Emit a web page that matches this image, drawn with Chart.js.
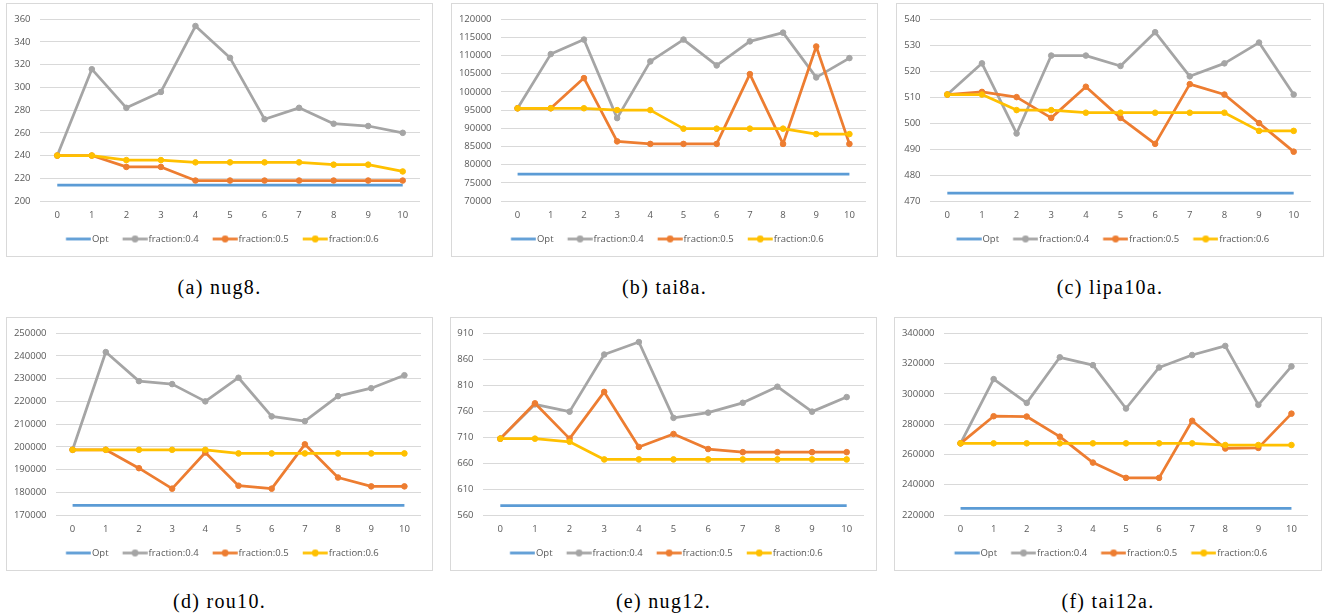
<!DOCTYPE html>
<html>
<head>
<meta charset="utf-8">
<script src="https://cdn.jsdelivr.net/npm/chart.js@4/dist/chart.umd.min.js"></script>
<style>
  html, body { margin: 0; padding: 0; background: #fff; }
  body { width: 1329px; height: 616px; position: relative; overflow: hidden; }
  .panel { position: absolute; box-sizing: border-box; border: 1px solid #d9d9d9; background: #fff; }
  .panel canvas { display: block; }
  .caption {
    position: absolute; font-family: "Liberation Serif", "Times New Roman", serif;
    font-size: 20px; line-height: 20px; letter-spacing: 1.3px; color: #000;
    text-align: center; white-space: nowrap;
  }
</style>
</head>
<body>
<script>
// ---- shared categories and series names ----
const categories = ['0', '1', '2', '3', '4', '5', '6', '7', '8', '9', '10'];
const seriesNames = ['Opt', 'fraction:0.4', 'fraction:0.5', 'fraction:0.6'];

// ---- nug8 ----
const nug8Ticks = [200, 220, 240, 260, 280, 300, 320, 340, 360];
const nug8Opt = [214, 214, 214, 214, 214, 214, 214, 214, 214, 214, 214];
const nug8F04 = [240, 316, 282, 296, 354, 326, 272, 282, 268, 266, 260];
const nug8F05 = [240, 240, 230, 230, 218, 218, 218, 218, 218, 218, 218];
const nug8F06 = [240, 240, 236, 236, 234, 234, 234, 234, 232, 232, 226];

// ---- tai8a ----
const tai8aTicks = [70000, 75000, 80000, 85000, 90000, 95000, 100000, 105000, 110000, 115000, 120000];
const tai8aOpt = [77400, 77400, 77400, 77400, 77400, 77400, 77400, 77400, 77400, 77400, 77400];
const tai8aF04 = [95500, 110400, 114400, 92800, 108400, 114400, 107300, 113900, 116300, 104000, 109300];
const tai8aF05 = [95500, 95500, 103800, 86400, 85700, 85700, 85700, 104900, 85700, 112500, 85700];
const tai8aF06 = [95500, 95500, 95500, 95000, 95000, 89900, 89900, 89900, 89900, 88400, 88400];

// ---- lipa10a ----
const lipa10aTicks = [470, 480, 490, 500, 510, 520, 530, 540];
const lipa10aOpt = [473, 473, 473, 473, 473, 473, 473, 473, 473, 473, 473];
const lipa10aF04 = [511, 523, 496, 526, 526, 522, 535, 518, 523, 531, 511];
const lipa10aF05 = [511, 512, 510, 502, 514, 502, 492, 515, 511, 500, 489];
const lipa10aF06 = [511, 511, 505, 505, 504, 504, 504, 504, 504, 497, 497];

// ---- rou10 ----
const rou10Ticks = [170000, 180000, 190000, 200000, 210000, 220000, 230000, 240000, 250000];
const rou10Opt = [174200, 174200, 174200, 174200, 174200, 174200, 174200, 174200, 174200, 174200, 174200];
const rou10F04 = [198700, 241700, 228900, 227600, 220000, 230400, 213400, 211300, 222300, 225800, 231500];
const rou10F05 = [198700, 198700, 190600, 181600, 197500, 182900, 181600, 201100, 186500, 182600, 182600];
const rou10F06 = [198700, 198700, 198700, 198700, 198700, 197100, 197100, 197100, 197100, 197100, 197100];

// ---- nug12 ----
const nug12Ticks = [560, 610, 660, 710, 760, 810, 860, 910];
const nug12Opt = [578, 578, 578, 578, 578, 578, 578, 578, 578, 578, 578];
const nug12F04 = [707, 773, 759, 869, 893, 747, 757, 776, 807, 759, 787];
const nug12F05 = [707, 775, 707, 797, 691, 716, 687, 681, 681, 681, 681];
const nug12F06 = [707, 707, 701, 667, 667, 667, 667, 667, 667, 667, 667];

// ---- tai12a ----
const tai12aTicks = [220000, 240000, 260000, 280000, 300000, 320000, 340000];
const tai12aOpt = [224400, 224400, 224400, 224400, 224400, 224400, 224400, 224400, 224400, 224400, 224400];
const tai12aF04 = [267300, 309700, 294000, 324100, 318900, 290300, 317400, 325600, 331600, 292700, 318100];
const tai12aF05 = [267300, 285200, 285000, 271700, 254600, 244500, 244500, 282200, 263900, 264300, 286900];
const tai12aF06 = [267300, 267300, 267300, 267300, 267300, 267300, 267300, 267300, 266200, 266200, 266200];

// ---- page layout: outer box [x, y, w, h] and plot area [left, right, top, bottom] ----
const panels = [
  { caption: '(a) nug8.',    ticks: nug8Ticks,    series: [nug8Opt, nug8F04, nug8F05, nug8F06],             box: [6, 3, 427, 254],   plot: [40, 420, 15, 201] },
  { caption: '(b) tai8a.',   ticks: tai8aTicks,   series: [tai8aOpt, tai8aF04, tai8aF05, tai8aF06],         box: [451, 3, 427, 254], plot: [501, 866, 15, 201] },
  { caption: '(c) lipa10a.', ticks: lipa10aTicks, series: [lipa10aOpt, lipa10aF04, lipa10aF05, lipa10aF06], box: [896, 3, 428, 254], plot: [930, 1311, 15, 201] },
  { caption: '(d) rou10.',   ticks: rou10Ticks,   series: [rou10Opt, rou10F04, rou10F05, rou10F06],         box: [6, 317, 427, 254],   plot: [56, 421, 329, 515] },
  { caption: '(e) nug12.',   ticks: nug12Ticks,   series: [nug12Opt, nug12F04, nug12F05, nug12F06],         box: [450, 317, 427, 254], plot: [483, 864, 329, 515] },
  { caption: '(f) tai12a.',  ticks: tai12aTicks,  series: [tai12aOpt, tai12aF04, tai12aF05, tai12aF06],     box: [894, 317, 428, 254], plot: [944, 1308, 329, 515] }
];

const seriesColors = ['#5B9BD5', '#A5A5A5', '#ED7D31', '#FFC000'];
const seriesMarkers = [false, true, true, true];

const FONT_SIZE = 9.5;
const LEGEND_PAD = 10.25;
const LEGEND_BOX = 25;

Chart.defaults.font.family = '"Open Sans", "Noto Sans", sans-serif';
Chart.defaults.font.size = FONT_SIZE;
Chart.defaults.color = '#595959';

// Legend symbol: a short line (with a dot for marker series) that runs up to the label text
function legendSymbol(color, marker) {
  const half = FONT_SIZE / 2;
  const W = 33, H = 9;
  const c = document.createElement('canvas');
  c.width = W; c.height = H;
  const ctx = c.getContext('2d');
  const x1 = W / 2 + LEGEND_BOX / 2 + half - 1;
  const x0 = x1 - LEGEND_BOX;
  ctx.strokeStyle = color;
  ctx.lineWidth = 2.75;
  ctx.beginPath(); ctx.moveTo(x0, H / 2); ctx.lineTo(x1, H / 2); ctx.stroke();
  if (marker) {
    ctx.fillStyle = color;
    ctx.beginPath(); ctx.arc((x0 + x1) / 2, H / 2, 3.4, 0, Math.PI * 2); ctx.fill();
  }
  return c;
}
const legendSymbols = seriesColors.map((c, i) => legendSymbol(c, seriesMarkers[i]));

// Centres the legend row on the whole chart box rather than on the plot area
const legendCentering = {
  id: 'legendCentering',
  afterLayout(chart) {
    const lg = chart.legend;
    if (!lg) return;
    const target = chart.width / 2 + 1;
    const w = lg.right - lg.left;
    lg.left = target - w / 2;
    lg.right = target + w / 2;
  }
};

panels.forEach(p => {
  const [bx, by, bw, bh] = p.box;
  const [pl, pr, pt, pb] = p.plot;

  const div = document.createElement('div');
  div.className = 'panel';
  Object.assign(div.style, { left: bx + 'px', top: by + 'px', width: bw + 'px', height: bh + 'px' });
  const canvas = document.createElement('canvas');
  const cw = bw - 2, ch = bh - 2;
  canvas.width = cw; canvas.height = ch;
  canvas.style.width = cw + 'px'; canvas.style.height = ch + 'px';
  div.appendChild(canvas);
  document.body.appendChild(div);

  const cap = document.createElement('div');
  cap.className = 'caption';
  cap.textContent = p.caption;
  Object.assign(cap.style, { left: bx + 'px', width: bw + 'px', top: (by + bh + 20) + 'px' });
  document.body.appendChild(cap);

  // plot area inside the canvas
  const ox = bx + 1, oy = by + 1;
  const areaLeft = pl - ox;
  const areaTop = pt - oy;
  const padRight = ox + cw - pr;
  const legendCenter = (by + bh) - 18 - oy;
  const legendHeight = FONT_SIZE + LEGEND_PAD + 10;
  const padBottom = ch - (legendCenter + (legendHeight - LEGEND_PAD - FONT_SIZE / 2));
  const legendTop = ch - padBottom - legendHeight;
  const xAxisHeight = legendTop - (pb - oy);

  const datasets = p.series.map((vals, i) => ({
    label: seriesNames[i],
    data: vals,
    borderColor: seriesColors[i],
    backgroundColor: seriesColors[i],
    borderWidth: 2.75,
    borderJoinStyle: 'round',
    pointRadius: seriesMarkers[i] ? 2.8 : 0,
    pointHoverRadius: seriesMarkers[i] ? 2.8 : 0,
    pointBorderWidth: 1,
    pointBackgroundColor: seriesColors[i],
    pointBorderColor: seriesColors[i],
    tension: 0,
    fill: false,
    order: seriesNames.length - i
  }));

  new Chart(canvas, {
    type: 'line',
    data: { labels: categories, datasets },
    plugins: [legendCentering],
    options: {
      responsive: false,
      animation: false,
      devicePixelRatio: 1,
      layout: { padding: { left: 0, right: padRight, top: areaTop, bottom: padBottom } },
      plugins: {
        tooltip: { enabled: false },
        legend: {
          position: 'bottom',
          fullSize: false,
          labels: {
            usePointStyle: true,
            pointStyleWidth: LEGEND_BOX,
            padding: LEGEND_PAD,
            color: '#595959',
            font: { size: FONT_SIZE },
            sort: (a, b) => a.datasetIndex - b.datasetIndex,
            generateLabels(chart) {
              const items = Chart.defaults.plugins.legend.labels.generateLabels(chart);
              items.forEach(it => { it.pointStyle = legendSymbols[it.datasetIndex]; });
              return items;
            }
          }
        }
      },
      scales: {
        x: {
          offset: true,
          grid: { display: false, drawTicks: false },
          border: { display: false },
          ticks: { padding: 9, maxRotation: 0, autoSkip: false, color: '#595959' },
          afterFit(scale) { scale.height = xAxisHeight; }
        },
        y: {
          min: p.ticks[0],
          max: p.ticks[p.ticks.length - 1],
          grid: { color: '#d9d9d9', lineWidth: 1, drawTicks: false },
          border: { display: false },
          ticks: {
            stepSize: p.ticks[1] - p.ticks[0],
            padding: 9.5,
            color: '#595959',
            callback: v => String(v)
          },
          afterFit(scale) { scale.width = areaLeft; }
        }
      }
    }
  });
});
</script>
</body>
</html>
